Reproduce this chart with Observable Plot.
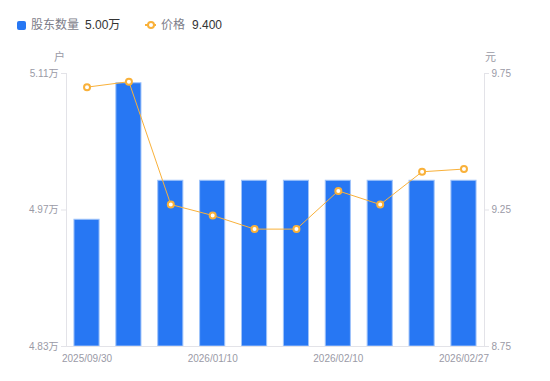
<!DOCTYPE html>
<html><head><meta charset="utf-8">
<script src="https://cdn.jsdelivr.net/npm/d3@7"></script>
<script src="https://cdn.jsdelivr.net/npm/@observablehq/plot@0.6"></script>
<style>
body{margin:0;background:#fff;font-family:"Liberation Sans","Noto Sans CJK SC",sans-serif;}
#legend{height:40px;position:relative;font-size:12px;}
#legend .sq{position:absolute;left:17px;top:21px;width:9px;height:9px;border-radius:2px;background:#2777f3;}
#legend .ln{position:absolute;left:145px;top:24px;width:11px;height:1.5px;background:#f9b13a;}
#legend .ci{position:absolute;left:147px;top:21px;width:4px;height:4px;border:2px solid #f9b13a;border-radius:50%;background:#fff;}
#legend .t{position:absolute;top:17px;line-height:16px;white-space:nowrap;}
#legend .lab{color:#7d7d89;}
#legend .val{color:#333;}
</style></head><body>
<div id="legend">
  <div class="sq"></div><span class="t lab" style="left:31px">股东数量</span><span class="t val" id="v1" style="left:85px"></span>
  <div class="ln"></div><div class="ci"></div><span class="t lab" style="left:161px">价格</span><span class="t val" id="v2" style="left:192px"></span>
</div>
<div id="chart"></div>
<script>
const dates = ["2025/09/30","2025/12/10","2025/12/31","2026/01/10","2026/01/20","2026/01/31","2026/02/10","2026/02/13","2026/02/20","2026/02/27"];
const holders = [4.96, 5.10, 5.00, 5.00, 5.00, 5.00, 5.00, 5.00, 5.00, 5.00]; // 万户
const prices = [9.70, 9.72, 9.27, 9.23, 9.18, 9.18, 9.32, 9.27, 9.39, 9.40]; // 元
const xTickDates = ["2025/09/30","2026/01/10","2026/02/10","2026/02/27"];
const holderTicks = [4.83, 4.97, 5.11];
const priceTicks = [8.75, 9.25, 9.75];

const hMin = holderTicks[0], hMax = holderTicks[holderTicks.length-1];
const pMin = priceTicks[0], pMax = priceTicks[priceTicks.length-1];
const toLeft = p => hMin + (p - pMin) / (pMax - pMin) * (hMax - hMin);
const toPrice = v => pMin + (v - hMin) / (hMax - hMin) * (pMax - pMin);

document.getElementById("v1").textContent = holders[holders.length-1].toFixed(2) + "万";
document.getElementById("v2").textContent = prices[prices.length-1].toFixed(3);

const axisGray = "#9a9aa6", lineGray = "#e3e3e8";
const blue = "#2777f3", orange = "#f9b13a";

const chart = Plot.plot({
  width: 550, height: 341,
  marginTop: 33, marginBottom: 35, marginLeft: 66, marginRight: 66,
  style: {fontFamily: '"Liberation Sans","Noto Sans CJK SC",sans-serif', fontSize: "10px", background: "#fff"},
  x: {type: "band", domain: dates, paddingInner: 0.4, paddingOuter: 0.19, round: false, axis: null},
  y: {domain: [hMin, hMax], axis: null},
  marks: [
    Plot.barY(dates, {x: d => d, y1: () => hMin, y2: (d, i) => holders[i], fill: blue, stroke: "#9fc3fa", strokeWidth: 1}),
    Plot.frame({anchor: "left", stroke: lineGray}),
    Plot.frame({anchor: "right", stroke: lineGray}),
    Plot.frame({anchor: "bottom", stroke: lineGray}),
    Plot.line(dates, {x: d => d, y: (d, i) => toLeft(prices[i]), stroke: orange, strokeWidth: 1}),
    Plot.dot(dates, {x: d => d, y: (d, i) => toLeft(prices[i]), r: 3, fill: "#fff", stroke: orange, strokeWidth: 2}),
    Plot.axisY(holderTicks, {anchor: "left", tickSize: 5, tickPadding: 3, stroke: lineGray, fill: axisGray, tickFormat: v => v.toFixed(2) + "万"}),
    Plot.axisY(priceTicks.map(toLeft), {anchor: "right", tickSize: 4, tickPadding: 3, stroke: lineGray, fill: axisGray, tickFormat: v => toPrice(v).toFixed(2)}),
    Plot.axisX(xTickDates, {anchor: "bottom", tickSize: 0, tickPadding: 8, fill: axisGray}),
    Plot.text(["户"], {frameAnchor: "top-left", dx: -7, dy: -16, textAnchor: "middle", lineAnchor: "middle", fill: axisGray, fontSize: 11}),
    Plot.text(["元"], {frameAnchor: "top-right", dx: 6, dy: -16, textAnchor: "middle", lineAnchor: "middle", fill: axisGray, fontSize: 11})
  ]
});
document.getElementById("chart").appendChild(chart);
</script>
</body></html>
